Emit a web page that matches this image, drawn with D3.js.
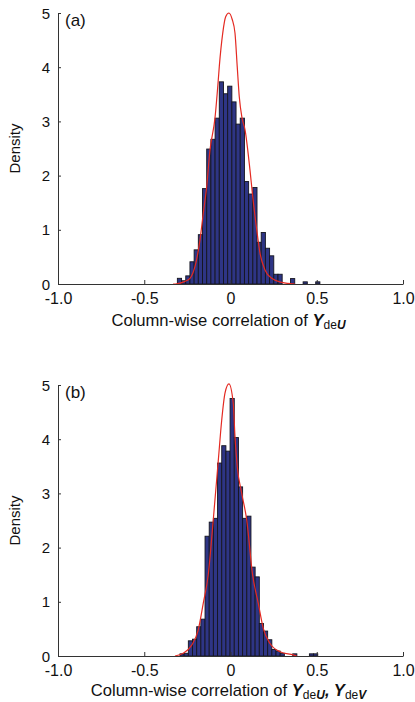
<!DOCTYPE html>
<html>
<head>
<meta charset="utf-8">
<script src="https://cdn.jsdelivr.net/npm/d3@7"></script>
<style>
  body { margin: 0; background: #fff; }
  svg text { font-family: "Liberation Sans", Arial, sans-serif; fill: #111; }
</style>
</head>
<body>
<svg id="chart" width="415" height="702"></svg>
<script>
// axis ticks
const xTicks = [-1, -0.5, 0, 0.5, 1]
const xTickLabels = ['-1.0', '-0.5', '0', '0.5', '1.0']
const yTicks = [0, 1, 2, 3, 4, 5]

// histogram (a): bins start at binStartA, each binWidthA wide
const binStartA = -0.308
const binWidthA = 0.0243
const densityA = [0.105, 0.06, 0.15, 0.41, 0.63, 0.91, 1.76, 2.49, 2.67, 3.06,
  3.73, 3.51, 3.65, 3.36, 2.95, 3.06, 1.89, 1.66, 1.78, 0.77,
  0.95, 0.66, 0.52, 0.18, 0.18, 0, 0, 0.1, 0, 0,
  0.04, 0, 0, 0.04]

// fitted density (a)
const curveA = [[-0.333, 0], [-0.312, 0.005], [-0.27, 0.04], [-0.235, 0.105], [-0.2, 0.4],
  [-0.177, 0.81], [-0.158, 1.3], [-0.138, 1.8], [-0.119, 2.47], [-0.09, 3.06],
  [-0.071, 3.76], [-0.065, 4.01], [-0.045, 4.63], [-0.028, 4.93], [-0.009, 5.0],
  [0.01, 4.88], [0.026, 4.63], [0.039, 4.01], [0.051, 3.45], [0.067, 3.06],
  [0.084, 2.85], [0.113, 2.1], [0.128, 1.64], [0.152, 1.0], [0.171, 0.57],
  [0.2, 0.26], [0.239, 0.105], [0.297, 0.03], [0.374, 0]]

// histogram (b)
const binStartB = -0.317
const binWidthB = 0.0242
const densityB = [0, 0.04, 0.05, 0.28, 0.31, 0.54, 0.68, 2.21, 2.47, 2.54,
  3.56, 3.88, 3.78, 4.75, 4.03, 3.12, 2.54, 2.58, 1.64, 1.46,
  0.6, 0.46, 0.3, 0.12, 0.09, 0.05, 0, 0, 0.04, 0,
  0, 0, 0.04, 0.04]

// fitted density (b)
const curveB = [[-0.322, 0], [-0.274, 0.05], [-0.225, 0.2], [-0.187, 0.48], [-0.158, 0.97],
  [-0.129, 1.5], [-0.1, 2.51], [-0.071, 3.6], [-0.051, 4.35], [-0.032, 4.85],
  [-0.009, 5.02], [0.016, 4.66], [0.026, 4.05], [0.039, 3.5], [0.065, 3.0],
  [0.094, 2.51], [0.128, 1.5], [0.161, 0.97], [0.19, 0.51], [0.229, 0.23],
  [0.287, 0.08], [0.364, 0.02], [0.384, 0]]

const svg = d3.select('#chart')
const left = 58
const right = 403

/**
 * Draws one histogram panel with its density curve and axes
 */
function drawPanel (top, bottom, titleGap, densities, binStart, binWidth, curve, label, titleParts) {
  const x = d3.scaleLinear().domain([-1, 1]).range([left, right])
  const y = d3.scaleLinear().domain([0, 5]).range([bottom, top])
  const g = svg.append('g')

  const bins = densities.map((d, i) => ({ x0: binStart + i * binWidth, x1: binStart + (i + 1) * binWidth, v: d }))

  g.selectAll('rect')
    .data(bins.filter(d => d.v > 0))
    .join('rect')
    .attr('x', d => x(d.x0))
    .attr('width', d => x(d.x1) - x(d.x0))
    .attr('y', d => y(d.v))
    .attr('height', d => y(0) - y(d.v))
    .attr('fill', '#2e3585')
    .attr('stroke', '#15151f')
    .attr('stroke-width', 0.9)

  const line = d3.line().x(d => x(d[0])).y(d => y(d[1])).curve(d3.curveMonotoneX)
  g.append('path')
    .attr('d', line(curve))
    .attr('fill', 'none')
    .attr('stroke', '#e42a22')
    .attr('stroke-width', 1.2)

  // x axis, ticks pointing in
  const xAxis = g.append('g')
    .attr('transform', `translate(0,${bottom})`)
    .call(d3.axisBottom(x).tickValues(xTicks).tickSize(-4).tickSizeOuter(0)
      .tickFormat((d, i) => xTickLabels[i]))
  xAxis.select('.domain').attr('stroke', '#333')
  xAxis.selectAll('.tick line').attr('stroke', '#333')
  xAxis.selectAll('.tick text').attr('font-size', 16).attr('dy', 0).attr('y', 19.5)

  // y axis
  const yAxis = g.append('g')
    .attr('transform', `translate(${left},0)`)
    .call(d3.axisLeft(y).tickValues(yTicks).tickSize(-3).tickSizeOuter(0).tickFormat(d3.format('d')))
  yAxis.select('.domain').attr('stroke', '#333')
  yAxis.selectAll('.tick line').attr('stroke', '#333')
  yAxis.selectAll('.tick text').attr('font-size', 15).attr('x', -8).attr('dy', '0.34em')

  g.append('text')
    .attr('transform', `translate(20,${(top + bottom) / 2}) rotate(-90)`)
    .attr('text-anchor', 'middle')
    .attr('font-size', 15)
    .text('Density')

  g.append('text')
    .attr('x', left + 7)
    .attr('y', top + 13)
    .attr('font-size', 17)
    .text(label)

  const title = g.append('text')
    .attr('x', (left + right) / 2 - 2)
    .attr('y', bottom + titleGap)
    .attr('text-anchor', 'middle')
    .attr('font-size', 16.6)
  titleParts.forEach(p => {
    const t = title.append('tspan').text(p.t)
    if (p.bi) t.attr('font-weight', 'bold').attr('font-style', 'italic')
    if (p.sub) t.attr('font-size', 12).attr('dy', p.dy)
    else if (p.dy) t.attr('dy', p.dy)
  })
}

drawPanel(13, 284, 42, densityA, binStartA, binWidthA, curveA, '(a)', [
  { t: 'Column-wise correlation of ' },
  { t: 'Y', bi: true },
  { t: 'de', sub: true, dy: 3 },
  { t: 'U', bi: true, sub: true, dy: 0 }
])

drawPanel(385, 656, 40, densityB, binStartB, binWidthB, curveB, '(b)', [
  { t: 'Column-wise correlation of ' },
  { t: 'Y', bi: true },
  { t: 'de', sub: true, dy: 2.5 },
  { t: 'U', bi: true, sub: true, dy: 0 },
  { t: ', ', bi: true, dy: -2.5 },
  { t: 'Y', bi: true },
  { t: 'de', sub: true, dy: 2.5 },
  { t: 'V', bi: true, sub: true, dy: 0 }
])
</script>
</body>
</html>
